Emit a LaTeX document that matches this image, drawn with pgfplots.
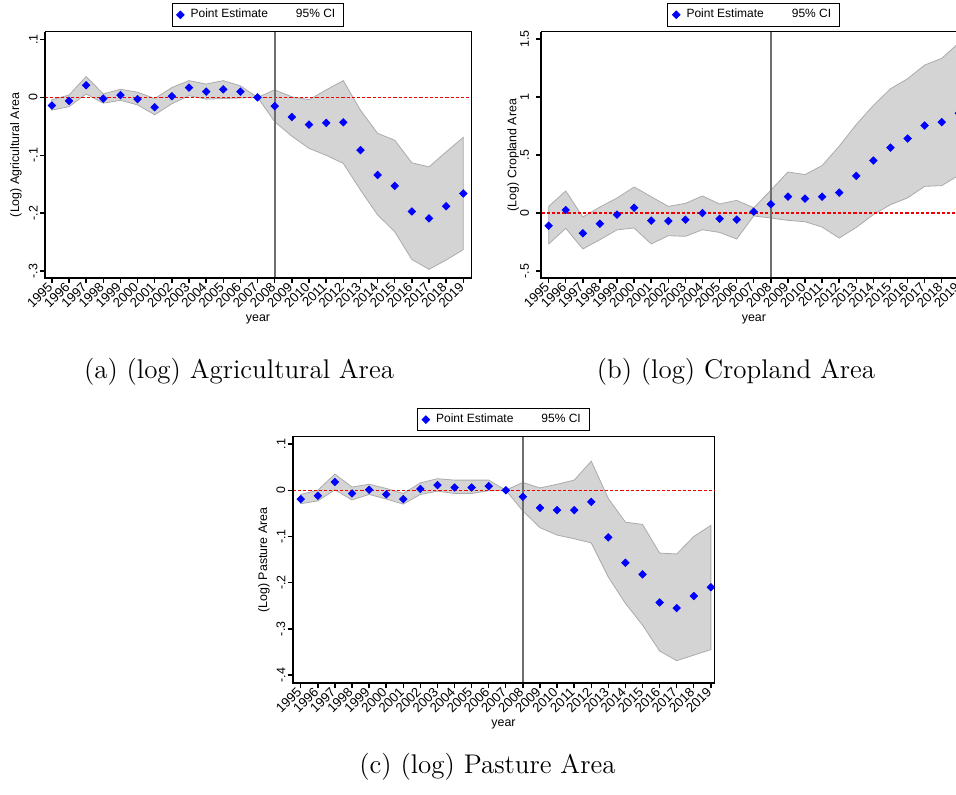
\documentclass[border=0pt]{standalone}
\usepackage{fontspec}
\newfontfamily\arialfont{Liberation Sans}
\usepackage{pgfplots}
\usepackage{pgfplotstable}
\pgfplotsset{compat=1.18}
\usepgfplotslibrary{fillbetween}
\definecolor{bandfill}{HTML}{D4D4D4}
\definecolor{bandline}{HTML}{ABABAB}
\definecolor{vline}{HTML}{6E6E6E}
\definecolor{ptblue}{HTML}{0000FF}
\definecolor{zred}{HTML}{F00000}

% event-study estimates: point, lower and upper 95% bound
\pgfplotstableread{
yr pt lo hi
1995 -0.014 -0.022 -0.004
1996 -0.006 -0.016 0.004
1997 0.021 0.006 0.036
1998 -0.002 -0.010 0.006
1999 0.004 -0.005 0.014
2000 -0.003 -0.013 0.009
2001 -0.017 -0.030 -0.002
2002 0.002 -0.011 0.017
2003 0.017 0.003 0.029
2004 0.010 -0.003 0.023
2005 0.014 -0.002 0.029
2006 0.010 -0.001 0.020
2007 0 0 0
2008 -0.015 -0.042 0.013
2009 -0.034 -0.067 0.001
2010 -0.047 -0.088 -0.004
2011 -0.044 -0.100 0.013
2012 -0.043 -0.114 0.029
2013 -0.091 -0.160 -0.022
2014 -0.134 -0.203 -0.062
2015 -0.153 -0.232 -0.074
2016 -0.197 -0.280 -0.113
2017 -0.209 -0.297 -0.120
2018 -0.188 -0.281 -0.094
2019 -0.166 -0.263 -0.069
}\agri

\pgfplotstableread{
yr pt lo hi
1995 -0.109 -0.267 0.057
1996 0.026 -0.132 0.190
1997 -0.175 -0.310 -0.034
1998 -0.092 -0.230 0.052
1999 -0.014 -0.145 0.129
2000 0.046 -0.129 0.224
2001 -0.066 -0.267 0.141
2002 -0.069 -0.195 0.057
2003 -0.057 -0.201 0.083
2004 0.000 -0.144 0.147
2005 -0.049 -0.167 0.078
2006 -0.057 -0.224 0.109
2007 0.011 -0.025 0.045
2008 0.075 -0.043 0.196
2009 0.141 -0.063 0.354
2010 0.124 -0.075 0.331
2011 0.141 -0.121 0.409
2012 0.176 -0.216 0.576
2013 0.320 -0.124 0.763
2014 0.452 -0.014 0.927
2015 0.564 0.072 1.071
2016 0.642 0.130 1.157
2017 0.754 0.230 1.275
2018 0.783 0.236 1.333
2019 0.860 0.325 1.466
}\crop

\pgfplotstableread{
yr pt lo hi
1995 -0.019 -0.029 -0.009
1996 -0.012 -0.023 0.000
1997 0.018 0.001 0.035
1998 -0.007 -0.021 0.007
1999 0.001 -0.009 0.013
2000 -0.009 -0.019 0.004
2001 -0.019 -0.030 -0.007
2002 0.003 -0.009 0.016
2003 0.011 -0.002 0.025
2004 0.006 -0.007 0.022
2005 0.006 -0.007 0.022
2006 0.009 -0.001 0.022
2007 0 0 0
2008 -0.014 -0.045 0.017
2009 -0.038 -0.081 0.005
2010 -0.043 -0.097 0.013
2011 -0.043 -0.105 0.022
2012 -0.025 -0.114 0.063
2013 -0.102 -0.188 -0.018
2014 -0.157 -0.245 -0.069
2015 -0.182 -0.292 -0.074
2016 -0.243 -0.348 -0.136
2017 -0.255 -0.369 -0.138
2018 -0.229 -0.357 -0.100
2019 -0.210 -0.345 -0.076
}\past

\pgfplotsset{
  evstudy/.style={
    scale only axis, height=123pt, clip=false,
    axis line style={line width=0.5pt},
    tick align=outside, major tick length=2.5pt,
    tick style={line width=0.7pt, black},
    xtick pos=left, ytick pos=left,
    xtick={1995,...,2019},
    /pgf/number format/1000 sep={},
    /pgf/number format/assume math mode=true,
    tick label style={font=\arialfont\fontsize{6.2}{7}\selectfont},
    xticklabel style={rotate=45, anchor=east, inner sep=1pt,
      font=\arialfont\fontsize{6.6}{7}\selectfont},
    yticklabel style={rotate=90, anchor=south, inner sep=1pt},
    label style={font=\arialfont\fontsize{6.2}{7}\selectfont},
    xlabel={year},
    xlabel style={at={(axis description cs:0.5,0)}, anchor=center, yshift=-20.5pt},
    legend style={at={(0.5,1)}, anchor=south, yshift=2.6pt,
      font=\arialfont\fontsize{6}{7}\selectfont,
      draw=black, line width=0.5pt, inner xsep=2.3pt, inner ysep=0.8pt,
      legend columns=2, column sep=1.3pt,
      /tikz/every even column/.append style={column sep=8.7pt}},
    legend cell align=left,
  },
  band/.style={fill=bandfill, draw=bandline, line width=0.4pt},
  pts/.style={only marks, mark=square*, mark size=1.3pt,
    mark options={rotate=45, fill=ptblue, draw=ptblue}},
}

\newcommand{\panel}[1]{%
  \addplot[draw=none, name path=hi, forget plot] table[x=yr, y=hi] {#1};
  \addplot[draw=none, name path=lo, forget plot] table[x=yr, y=lo] {#1};
  \addplot[band, forget plot] fill between[of=hi and lo];
  \draw[zred, line width=0.55pt, dash pattern=on 1.6pt off 1pt]
    ({rel axis cs:0,0}|-{axis cs:2000,0}) -- ({rel axis cs:1,0}|-{axis cs:2000,0});
  \draw[vline, line width=0.8pt]
    ({axis cs:2008,0}|-{rel axis cs:0,0}) -- ({axis cs:2008,0}|-{rel axis cs:0,1});
  \draw[black, line width=0.9pt]
    (rel axis cs:0,1) -- (rel axis cs:0,0) -- (rel axis cs:1,0);
  \addplot[pts] table[x=yr, y=pt] {#1};
  \addlegendentry{Point Estimate}
  \addlegendimage{empty legend}
  \addlegendentry{95\% CI}
}

\begin{document}
\begin{tikzpicture}
\begin{axis}[evstudy, at={(22.5pt,258pt)}, anchor=south west, width=213pt,
  xmin=1994.6, xmax=2019.45, ymin=-0.312, ymax=0.113,
  ytick={-0.3,-0.2,-0.1,0,0.1}, yticklabels={-.3,-.2,-.1,0,.1},
  ylabel={(Log) Agricultural Area},
  ylabel style={at={(axis description cs:-0.068,0.5)}, anchor=center}]
\panel{\agri}
\end{axis}

\begin{axis}[evstudy, at={(270.65pt,258pt)}, anchor=south west, width=212.6pt,
  xmin=1994.57, xmax=2019.45, ymin=-0.56, ymax=1.56,
  ytick={-0.5,0,0.5,1,1.5}, yticklabels={-.5,0,.5,1,1.5},
  yticklabel shift=2.5pt,
  ylabel={(Log) Cropland Area},
  ylabel style={at={(axis description cs:-0.066,0.5)}, anchor=center}]
\panel{\crop}
\end{axis}

\begin{axis}[evstudy, at={(146.35pt,55.35pt)}, anchor=south west, width=210.8pt,
  height=123.3pt,
  xmin=1994.53, xmax=2019.2, ymin=-0.418, ymax=0.116,
  ytick={-0.4,-0.3,-0.2,-0.1,0,0.1}, yticklabels={-.4,-.3,-.2,-.1,0,.1},
  ylabel={(Log) Pasture Area},
  ylabel style={at={(axis description cs:-0.068,0.5)}, anchor=center}]
\panel{\past}
\end{axis}

\node[anchor=base, font=\fontsize{13.5}{16}\selectfont] at (119.5pt,208pt) {(a) (log) Agricultural Area};
\node[anchor=base, font=\fontsize{13.5}{16}\selectfont] at (368pt,208pt) {(b) (log) Cropland Area};
\node[anchor=base, font=\fontsize{13.5}{16}\selectfont] at (243.75pt,10.5pt) {(c) (log) Pasture Area};

\pgfresetboundingbox
\path[use as bounding box] (0,0) rectangle (478pt,397pt);
\end{tikzpicture}
\end{document}
